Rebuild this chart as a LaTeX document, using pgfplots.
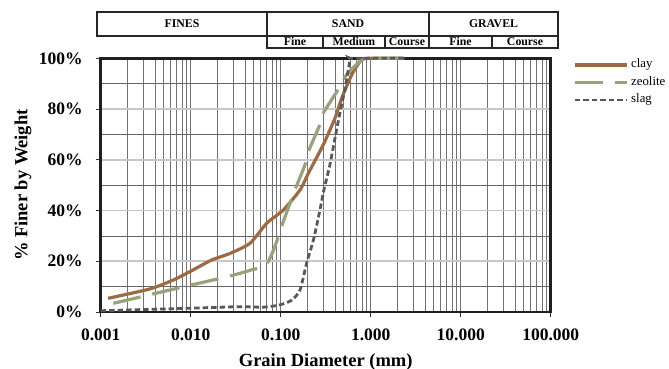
\documentclass[border=0pt]{standalone}
\usepackage{fontspec}
\setmainfont{Liberation Serif}
\usepackage{pgfplots}
\pgfplotsset{compat=1.18}
\definecolor{clayc}{HTML}{9C6B46}
\definecolor{zeoc}{HTML}{98A27C}
\definecolor{slagc}{HTML}{58585A}
\begin{document}
\begin{tikzpicture}
\useasboundingbox (-100.7pt,-57pt) rectangle (568.3pt,312pt);
\begin{axis}[
  scale only axis, width=450pt, height=253.7pt,
  xmode=log, xmin=0.001, xmax=100, ymin=0, ymax=100,
  xtick={0.001,0.01,0.1,1,10,100},
  xticklabels={0.001,0.010,0.100,1.000,10.000,100.000},
  ytick={0,20,40,60,80,100},
  yticklabels={0\%,20\%,40\%,60\%,80\%,100\%},
  minor ytick={10,30,50,70,90},
  xmajorgrids, xminorgrids, ymajorgrids, yminorgrids,
  major x grid style={draw=black!55, line width=0.75pt},
  minor x grid style={draw=black!55, line width=0.75pt},
  major y grid style={draw=black!22, line width=1.6pt},
  minor y grid style={draw=black!60, line width=0.75pt},
  axis line style={draw=black!88, line width=2.5pt},
  tick align=outside, tick pos=left,
  major tick length=5pt, minor tick length=0pt,
  tick style={draw=black!80, line width=0.8pt},
  ticklabel style={font=\fontsize{17.5}{18}\selectfont\bfseries},
  xticklabel style={inner sep=0pt, anchor=north, yshift=-12pt},
  yticklabel style={inner sep=0pt, anchor=east, xshift=-13pt},
  xlabel={Grain Diameter (mm)},
  ylabel={\% Finer by Weight},
  xlabel style={font=\fontsize{18.5}{20}\selectfont\bfseries, at={(axis description cs:0.5,-0.1959)}, anchor=center},
  ylabel style={font=\fontsize{18.5}{20}\selectfont\bfseries, at={(axis description cs:-0.17267,0.5)}, anchor=center},
  clip=false,
  legend style={draw=none, fill=none, inner sep=0pt, outer sep=0pt,
    at={(1.0496,1.0)}, anchor=north west,
    font=\fontsize{12.8}{13}\selectfont, row sep=4pt, column sep=2pt,
    nodes={inner sep=1pt, text height=8.5pt, text depth=3pt}},
  legend cell align=left,
  legend image code/.code={\draw[#1] (0pt,0pt) -- (52pt,0pt);},
]
\addplot[clayc, line width=3.2pt, smooth, tension=0.4] coordinates {
(0.00121,5.4) (0.00353,9.1) (0.0064,12.6) (0.0098,15.9) (0.0171,20.5) (0.0274,23.1) (0.0456,27.1) (0.070,35.0) (0.107,40.2) (0.164,48.1) (0.203,54.7) (0.297,65.9) (0.401,76.4) (0.477,84.3) (0.615,93.5) (0.79,99.4) (1.0,100) (2.36,100)};
\addlegendentry{clay}
\addplot[zeoc, line width=3.2pt, line cap=butt, dash pattern=on 28pt off 12pt, smooth, tension=0.4] coordinates {
(0.00138,3.4) (0.0059,8.7) (0.0274,14.2) (0.0474,16.6) (0.067,18.1) (0.079,22.5) (0.09,27.7) (0.102,33.6) (0.127,42.9) (0.144,48.1) (0.186,58) (0.203,63.2) (0.272,73.8) (0.297,78.4) (0.434,87.6) (0.539,93.5) (0.79,99.4) (0.9,100) (2.36,100)};
\addlegendentry{zeolite}
\addplot[slagc, line width=2.8pt, line cap=butt, dash pattern=on 5.5pt off 3pt, smooth, tension=0.4] coordinates {
(0.001,0.5) (0.0098,1.5) (0.035,2.1) (0.064,1.9) (0.098,2.8) (0.133,4.7) (0.164,8.7) (0.194,19.2) (0.231,28.4) (0.273,40.2) (0.302,48.1) (0.352,58) (0.435,75) (0.519,88.2) (0.59,99.4) (0.62,100) (2.36,100)};
\addlegendentry{slag}
\end{axis}
% soil classification table
\begin{scope}[line width=1.2pt, draw=black!85]
\draw (-3.7pt,276pt) rectangle (457.3pt,300pt);
\draw (166.3pt,264pt) rectangle (457.3pt,276pt);
\draw (166.3pt,276pt) -- (166.3pt,300pt);
\draw (328.3pt,264pt) -- (328.3pt,300pt);
\draw (222.3pt,264pt) -- (222.3pt,276pt);
\draw (284.3pt,264pt) -- (284.3pt,276pt);
\draw (391.3pt,264pt) -- (391.3pt,276pt);
\end{scope}
\begin{scope}[every node/.style={anchor=base, inner sep=0pt, font=\fontsize{11.8}{12}\selectfont\bfseries}]
\node at (81.3pt,284.3pt) {FINES};
\node at (247.3pt,284.3pt) {SAND};
\node at (392.8pt,284.3pt) {GRAVEL};
\node at (194.3pt,266.3pt) {Fine};
\node at (253.3pt,266.3pt) {Medium};
\node at (306.3pt,266.3pt) {Course};
\node at (359.8pt,266.3pt) {Fine};
\node at (424.3pt,266.3pt) {Course};
\end{scope}
\end{tikzpicture}
\end{document}
